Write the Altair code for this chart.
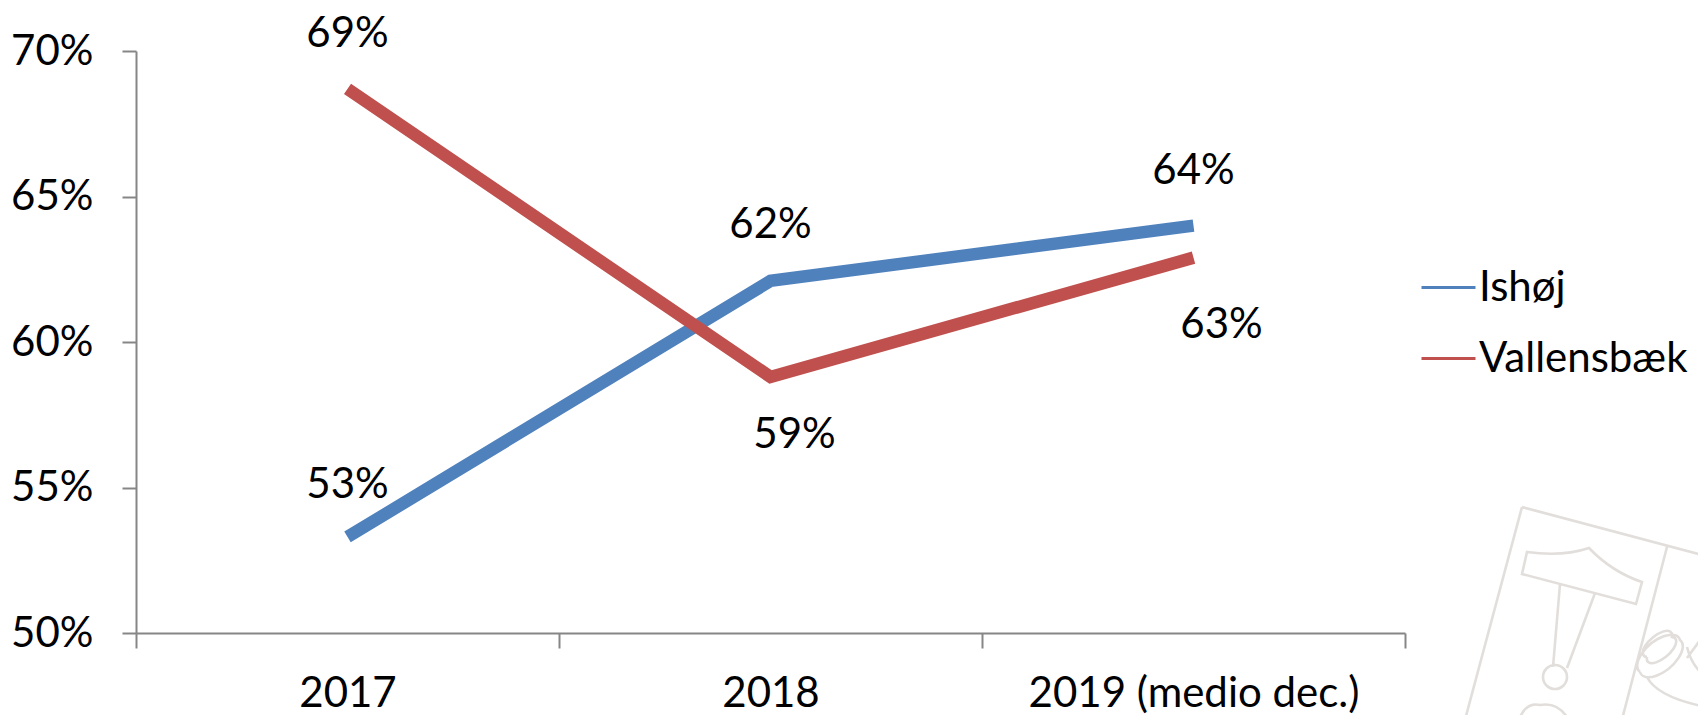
import altair as alt
import pandas as pd

categories = ["2017", "2018", "2019 (medio dec.)"]
ishoj = [53.3, 62.1, 64.0]
vallensbaek = [68.7, 58.8, 62.9]
y_ticks = [50, 55, 60, 65, 70]
series_names = ["Ishøj", "Vallensbæk"]
series_colors = ["#4F81BD", "#C0504D"]

rows = []
for name, vals in zip(series_names, [ishoj, vallensbaek]):
    for c, v in zip(categories, vals):
        rows.append({"year": c, "value": v, "series": name, "label": f"{round(v)}%"})
df = pd.DataFrame(rows)

FONT = "Lato"
FS = 42
x_enc = alt.X(
    "year:N", sort=categories, title=None,
    scale=alt.Scale(paddingInner=0, paddingOuter=0),
    axis=alt.Axis(
        labelAngle=0, tickBand="extent", domainColor="#868686", domainWidth=2,
        tickColor="#868686", tickWidth=2, tickSize=15, labelPadding=25, labelLimit=0,
        labelFontSize=FS, labelFont=FONT, labelColor="#000000", grid=False,
    ),
)
y_enc = alt.Y(
    "value:Q", title=None,
    scale=alt.Scale(domain=[50, 70], nice=False, zero=False),
    axis=alt.Axis(
        values=y_ticks, labelExpr="datum.value + '%'", domainColor="#868686", domainWidth=2,
        tickColor="#868686", tickWidth=2, tickSize=14, labelPadding=29,
        labelFontSize=FS, labelFont=FONT, labelColor="#000000", grid=False,
    ),
)

# Decorative watermark (municipal arms) as an outline symbol
emblem_path = (
    "M0,0L240,64M0,0L-60,224M145,40L97,224"
    "M5,45Q40,50 67,41Q90,65 120,75L114,97L0,67Z"
    "M38,77L31,160M73,86L45,161"
    "M21,170a12,12 0 1,0 24,0a12,12 0 1,0 -24,0"
    "M118,165A26,13,-40 1 1 158,133A26,13,-40 1 1 118,165"
    "M125,150A18,8,-40 1 1 150,130A18,8,-40 1 1 125,150"
    "M125,170Q135,190 184,200M165,140Q170,160 184,170"
    "M165,151L184,125"
    "M-2,210Q5,195 18,198Q35,195 45,210"
)
emblem = alt.Chart(alt.Data(values=[{"k": 1}])).mark_point(
    shape=emblem_path, size=4, filled=False, stroke="#E2DEDB", strokeWidth=2.6, opacity=1,
).encode(x=alt.value(1386), y=alt.value(456))

lines = alt.Chart(df).mark_line(strokeWidth=12.5, strokeCap="butt", strokeJoin="miter").encode(
    x=x_enc, y=y_enc,
    color=alt.Color(
        "series:N",
        scale=alt.Scale(domain=series_names, range=series_colors),
        legend=alt.Legend(
            title=None, orient="none", legendX=1284, legendY=208, symbolType="stroke",
            symbolSize=2916, symbolStrokeWidth=3, labelFontSize=FS, labelFont=FONT,
            labelColor="#000000", labelOffset=2, rowPadding=21, labelLimit=0,
        ),
    ),
)

placements = {
    "Ishøj": {"2017": (0, -52), "2018": (0, -56), "2019 (medio dec.)": (0, -55)},
    "Vallensbæk": {"2017": (0, -55), "2018": (24, 58), "2019 (medio dec.)": (28, 67)},
}
label_layers = []
for s, per_year in placements.items():
    for yr, (dx, dy) in per_year.items():
        sub = df[(df.series == s) & (df.year == yr)]
        label_layers.append(
            alt.Chart(sub).mark_text(
                dx=dx, dy=dy, font=FONT, fontSize=FS, color="#000000", baseline="middle", align="center"
            ).encode(
                x=alt.X("year:N", sort=categories, scale=alt.Scale(domain=categories, paddingInner=0, paddingOuter=0)),
                y=alt.Y("value:Q"),
                text="label:N",
            )
        )

chart = alt.layer(emblem, lines, *label_layers).properties(
    width=1269, height=582,
    padding={"left": 128, "top": 43, "right": 293, "bottom": 82},
    autosize=alt.AutoSizeParams(type="none"),
    background="#FFFFFF",
).configure_view(stroke=None)

chart.save("out.html", embed_options={"renderer": "svg", "actions": False})
